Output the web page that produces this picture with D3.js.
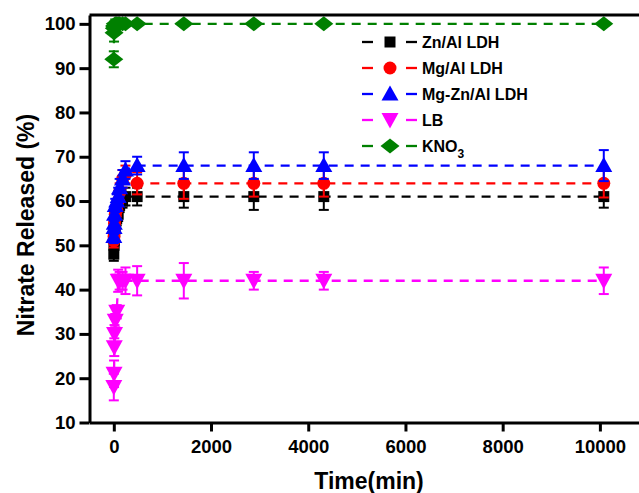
<!DOCTYPE html>
<html>
<head>
<meta charset="utf-8">
<script src="https://cdn.jsdelivr.net/npm/d3@7"></script>
<style>
    body { margin: 0; background: #fff; }
    #chart-container { width: 639px; height: 493px; }
    .rel-axis text { font-family: "Liberation Sans", Arial, sans-serif; font-weight: bold; fill: #000; }
    .rel-title, .rel-legend text { font-family: "Liberation Sans", Arial, sans-serif; font-weight: bold; fill: #000; }
</style>
</head>
<body>
<div id="chart-container"></div>
<script>
//data
var times = [0, 5, 10, 15, 30, 60, 90, 120, 180, 240, 480, 1440, 2880, 4320, 10080];

var znAlValues = [48, 50, 51, 53, 54, 56, 57, 59, 60, 61, 61, 61, 61, 61, 61];
var znAlErrors = [1.5, 1.5, 1.5, 1.5, 1.5, 1.5, 1.5, 1.5, 1.5, 2, 2, 2.5, 3, 3, 2.5];

var mgAlValues = [51, 52, 54, 55, 57, 58, 60, 62, 65, 66, 64, 64, 64, 64, 64];
var mgAlErrors = [1.5, 1.5, 1.5, 1.5, 1.5, 1.5, 2, 2, 2, 2, 2.5, 3.5, 3, 3, 3.2];

var mgZnAlValues = [52, 54, 55, 57, 59, 60, 61, 63, 65, 67, 68, 68, 68, 68, 68];
var mgZnAlErrors = [1.5, 1.5, 1.5, 1.5, 1.5, 1.5, 2, 2, 2, 2, 2, 3, 3, 3, 3.5];

var lbValues = [18, 21, 27, 30, 33, 35, 42, 42, 42, 42, 42, 42, 42, 42, 42];
var lbErrors = [3, 3, 2, 2, 1.5, 1.5, 2.5, 2, 2, 3, 3.3, 4, 2, 2, 3];

var kno3Values = [92, 98, 99, 99.5, 100, 100, 100, 100, 100, 100, 100, 100, 100, 100, 100];
var kno3Errors = [1.8, 2, 1.5, 1, 1, 0.8, 0.8, 0.5, 0.5, 0.5, 0.3, 0.3, 0.3, 0.3, 0.3];

var seriesNames = ['Zn/Al LDH', 'Mg/Al LDH', 'Mg-Zn/Al LDH', 'LB', 'KNO3'];
var seriesColors = ['#000000', '#ff0000', '#0000ff', '#ff00ff', '#008000'];
var seriesShapes = ['square', 'circle', 'triangle', 'triangleDown', 'diamond'];

var xTicks = [0, 2000, 4000, 6000, 8000, 10000];
var yTicks = [10, 20, 30, 40, 50, 60, 70, 80, 90, 100];

//containers
var chartContainer = d3.select('#chart-container'),
    chartSvg,
    chartG;

//sizes
var outerW = 639,
    outerH = 493;

//scales
var xScale,
    yScale;

function markerPath(shape) {
    if (shape == 'square') return 'M-5.5,-5.5H5.5V5.5H-5.5Z';
    if (shape == 'circle') return 'M6.5,0A6.5,6.5 0 1,1 -6.5,0A6.5,6.5 0 1,1 6.5,0Z';
    if (shape == 'triangle') return 'M0,-8.5L8.5,6.5L-8.5,6.5Z';
    if (shape == 'triangleDown') return 'M0,8.5L8.5,-7L-8.5,-7Z';
    if (shape == 'diamond') return 'M0,-7.5L9.5,0L0,7.5L-9.5,0Z';
}

function buildChart() {
    var series = [
        {values: znAlValues, errors: znAlErrors},
        {values: mgAlValues, errors: mgAlErrors},
        {values: mgZnAlValues, errors: mgZnAlErrors},
        {values: lbValues, errors: lbErrors},
        {values: kno3Values, errors: kno3Errors}
    ];
    series.forEach(function(s, i) {
        s.name = seriesNames[i];
        s.color = seriesColors[i];
        s.shape = seriesShapes[i];
        s.points = times.map(function(t, j) {
            return {t: t, v: s.values[j], e: s.errors[j]};
        });
    });

    chartSvg = chartContainer.append('svg')
        .attr('width', outerW)
        .attr('height', outerH);

    chartG = chartSvg.append('g');

    var line = d3.line()
        .x(function(d) { return xScale(d.t); })
        .y(function(d) { return yScale(d.v); });

    //dashed lines
    chartG.selectAll('.rel-line')
        .data(series)
        .enter()
        .append('path')
        .attr('class', 'rel-line')
        .attr('d', function(d) { return line(d.points); })
        .attr('fill', 'none')
        .attr('stroke', function(d) { return d.color; })
        .attr('stroke-width', 2.3)
        .attr('stroke-dasharray', '9,7');

    //error bars + markers
    series.forEach(function(s) {
        var g = chartG.append('g').attr('class', 'rel-series');

        var bars = g.selectAll('.err')
            .data(s.points)
            .enter()
            .append('g')
            .attr('class', 'err')
            .attr('stroke', s.color)
            .attr('stroke-width', 2);

        bars.append('line')
            .attr('x1', function(d) { return xScale(d.t); })
            .attr('x2', function(d) { return xScale(d.t); })
            .attr('y1', function(d) { return yScale(d.v + d.e); })
            .attr('y2', function(d) { return yScale(d.v - d.e); });

        bars.append('line')
            .attr('x1', function(d) { return xScale(d.t) - 5; })
            .attr('x2', function(d) { return xScale(d.t) + 5; })
            .attr('y1', function(d) { return yScale(d.v + d.e); })
            .attr('y2', function(d) { return yScale(d.v + d.e); });

        bars.append('line')
            .attr('x1', function(d) { return xScale(d.t) - 5; })
            .attr('x2', function(d) { return xScale(d.t) + 5; })
            .attr('y1', function(d) { return yScale(d.v - d.e); })
            .attr('y2', function(d) { return yScale(d.v - d.e); });

        g.selectAll('.dot')
            .data(s.points)
            .enter()
            .append('path')
            .attr('class', 'dot')
            .attr('d', markerPath(s.shape))
            .attr('transform', function(d) { return 'translate(' + xScale(d.t) + ',' + yScale(d.v) + ')'; })
            .attr('fill', s.color);
    });

    //frame top
    chartG.append('line')
        .attr('x1', xScale.range()[0])
        .attr('x2', xScale.range()[1])
        .attr('y1', yScale.range()[1])
        .attr('y2', yScale.range()[1])
        .attr('stroke', '#000')
        .attr('stroke-width', 3);

    var xAxis = d3.axisBottom(xScale)
        .tickValues(xTicks)
        .tickFormat(d3.format('d'))
        .tickSizeOuter(0)
        .tickSizeInner(9)
        .tickPadding(8);

    chartG.append('g')
        .attr('class', 'rel-axis')
        .attr('transform', 'translate(0,' + yScale.range()[0] + ')')
        .call(xAxis);

    var yAxis = d3.axisLeft(yScale)
        .tickValues(yTicks)
        .tickSizeOuter(0)
        .tickSizeInner(10)
        .tickPadding(4);

    chartG.append('g')
        .attr('class', 'rel-axis')
        .attr('transform', 'translate(' + xScale.range()[0] + ',0)')
        .call(yAxis);

    chartG.selectAll('.rel-axis path, .rel-axis line')
        .attr('stroke', '#000')
        .attr('stroke-width', 3);
    chartG.selectAll('.rel-axis text')
        .style('font-size', '18.5px');

    //titles
    chartG.append('text')
        .attr('class', 'rel-title')
        .attr('x', 369)
        .attr('y', 489)
        .attr('text-anchor', 'middle')
        .style('font-size', '23px')
        .text('Time(min)');

    chartG.append('text')
        .attr('class', 'rel-title')
        .attr('transform', 'translate(34,225) rotate(-90)')
        .attr('text-anchor', 'middle')
        .style('font-size', '23px')
        .text('Nitrate Released (%)');

    //legend
    var legend = chartG.append('g')
        .attr('class', 'rel-legend');

    var rows = legend.selectAll('.leg-row')
        .data(series)
        .enter()
        .append('g')
        .attr('class', 'leg-row')
        .attr('transform', function(d, i) { return 'translate(0,' + (42 + i * 26) + ')'; });

    rows.append('line')
        .attr('x1', 362).attr('x2', 373)
        .attr('y1', 0).attr('y2', 0)
        .attr('stroke', function(d) { return d.color; })
        .attr('stroke-width', 2.3);

    rows.append('line')
        .attr('x1', 406).attr('x2', 417)
        .attr('y1', 0).attr('y2', 0)
        .attr('stroke', function(d) { return d.color; })
        .attr('stroke-width', 2.3);

    rows.append('path')
        .attr('d', function(d) { return markerPath(d.shape); })
        .attr('transform', 'translate(390,0)')
        .attr('fill', function(d) { return d.color; });

    var labels = rows.append('text')
        .attr('x', 422)
        .attr('y', 6)
        .style('font-size', '16px');

    labels.each(function(d) {
        var t = d3.select(this);
        if (d.name == 'KNO3') {
            t.append('tspan').text('KNO');
            t.append('tspan').attr('dy', 6).style('font-size', '12px').text('3');
        } else {
            t.text(d.name);
        }
    });
}

function setupChart() {
    xScale = d3.scaleLinear().domain([-500, 11000]).range([89.5, 648.5]);
    yScale = d3.scaleLinear().domain([10, 102]).range([422.5, 15]);
    buildChart();
}

setupChart();
</script>
</body>
</html>
